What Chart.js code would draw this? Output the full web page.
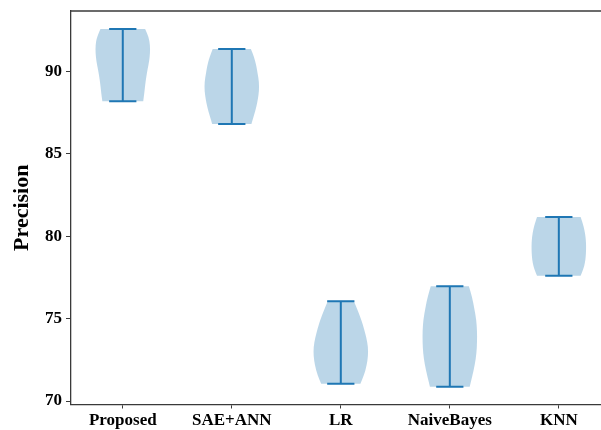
<!DOCTYPE html>
<html>
<head>
<meta charset="utf-8">
<script src="https://cdn.jsdelivr.net/npm/chart.js@4"></script>
<style>
  body { margin: 0; background: #fff; }
  #wrap { width: 601px; height: 430px; overflow: hidden; }
</style>
</head>
<body>
<div id="wrap"><canvas id="violinChart" width="612" height="430"></canvas></div>
<script>
const models = ['Proposed', 'SAE+ANN', 'LR', 'NaiveBayes', 'KNN']
const minVals = [88.18, 86.81, 71.05, 70.87, 77.60]
const maxVals = [92.57, 91.36, 76.06, 76.97, 81.16]
const yTicks = [70, 75, 80, 85, 90]

// relative density, from its min (first) up to its max (last)
const densProposed = [0.75, 0.79, 0.82, 0.86, 0.91, 0.97, 1.00, 1.00, 0.95, 0.82]
const densSaeAnn = [0.72, 0.81, 0.90, 0.96, 1.00, 1.00, 0.95, 0.90, 0.82, 0.70]
const densLR = [0.72, 0.86, 0.95, 1.00, 1.00, 0.94, 0.85, 0.75, 0.62, 0.48]
const densNaive = [0.73, 0.83, 0.92, 0.98, 1.00, 1.00, 0.97, 0.90, 0.82, 0.70]
const densKNN = [0.80, 0.90, 0.96, 0.99, 1.00, 1.00, 0.98, 0.94, 0.88, 0.80]
const densities = [densProposed, densSaeAnn, densLR, densNaive, densKNN]

const blue = '#1f77b4'
const spine = '#3a3a3a'
const tickFont = { family: 'Liberation Serif', size: 17, weight: 'bold' }

function smoothPath(ctx, pts) {
    ctx.lineTo(pts[0].x, pts[0].y)
    for (let i = 1; i < pts.length - 1; i++) {
        const mx = (pts[i].x + pts[i + 1].x) / 2
        const my = (pts[i].y + pts[i + 1].y) / 2
        ctx.quadraticCurveTo(pts[i].x, pts[i].y, mx, my)
    }
    const last = pts[pts.length - 1]
    ctx.lineTo(last.x, last.y)
}

const violins = {
    id: 'violins',
    beforeDatasetsDraw(chart) {
        const { ctx, scales: { x, y }, chartArea } = chart
        // top spine
        ctx.save()
        ctx.strokeStyle = spine
        ctx.lineWidth = 1.3
        ctx.beginPath()
        ctx.moveTo(chartArea.left, chartArea.top)
        ctx.lineTo(chartArea.right, chartArea.top)
        ctx.stroke()

        models.forEach((m, i) => {
            const pos = i + 1
            const d = densities[i]
            const lo = minVals[i], hi = maxVals[i]
            const step = (hi - lo) / (d.length - 1)
            const right = d.map((w, k) => ({ x: x.getPixelForValue(pos + 0.25 * w), y: y.getPixelForValue(lo + k * step) }))
            const left = d.map((w, k) => ({ x: x.getPixelForValue(pos - 0.25 * w), y: y.getPixelForValue(lo + k * step) })).reverse()
            ctx.beginPath()
            ctx.moveTo(x.getPixelForValue(pos), y.getPixelForValue(lo))
            smoothPath(ctx, right)
            smoothPath(ctx, left)
            ctx.closePath()
            ctx.fillStyle = 'rgba(31,119,180,0.3)'
            ctx.fill()

            // whisker and caps
            const cx = x.getPixelForValue(pos)
            const yLo = y.getPixelForValue(lo), yHi = y.getPixelForValue(hi)
            ctx.strokeStyle = blue
            ctx.lineWidth = 2
            ctx.beginPath()
            ctx.moveTo(cx, yLo); ctx.lineTo(cx, yHi)
            ctx.moveTo(x.getPixelForValue(pos - 0.125), yLo); ctx.lineTo(x.getPixelForValue(pos + 0.125), yLo)
            ctx.moveTo(x.getPixelForValue(pos - 0.125), yHi); ctx.lineTo(x.getPixelForValue(pos + 0.125), yHi)
            ctx.stroke()
        })
        ctx.restore()
    }
}

new Chart(document.getElementById('violinChart').getContext('2d'), {
    type: 'scatter',
    data: { datasets: [{ data: [] }] },
    options: {
        responsive: false,
        animation: false,
        layout: { padding: { top: 11, right: 1.4, left: 0, bottom: 0 } },
        plugins: { legend: { display: false }, tooltip: { enabled: false } },
        scales: {
            x: {
                type: 'linear',
                min: 0.525,
                max: 5.475,
                afterBuildTicks: scale => { scale.ticks = models.map((m, i) => ({ value: i + 1 })) },
                afterFit: scale => { scale.height = 25.5; scale.paddingLeft = 0; scale.paddingRight = 0 },
                ticks: {
                    callback: v => models[v - 1],
                    color: '#000',
                    font: tickFont,
                    padding: 2,
                    maxRotation: 0
                },
                grid: { drawOnChartArea: false, drawTicks: true, tickLength: 4, tickColor: spine },
                border: { display: true, color: spine, width: 1.3 }
            },
            y: {
                min: 69.79,
                max: 93.66,
                afterBuildTicks: scale => { scale.ticks = yTicks.map(v => ({ value: v })) },
                afterFit: scale => { scale.width = 71; scale.paddingTop = 0; scale.paddingBottom = 0 },
                ticks: { color: '#000', font: tickFont, padding: 4 },
                grid: { drawOnChartArea: false, drawTicks: true, tickLength: 5, tickColor: spine },
                border: { display: true, color: spine, width: 1.3 },
                title: {
                    display: true,
                    text: 'Precision',
                    color: '#000',
                    font: { family: 'Liberation Serif', size: 22, weight: 'bold' },
                    padding: { top: 9, bottom: 0 }
                }
            }
        }
    },
    plugins: [violins]
})
</script>
</body>
</html>
